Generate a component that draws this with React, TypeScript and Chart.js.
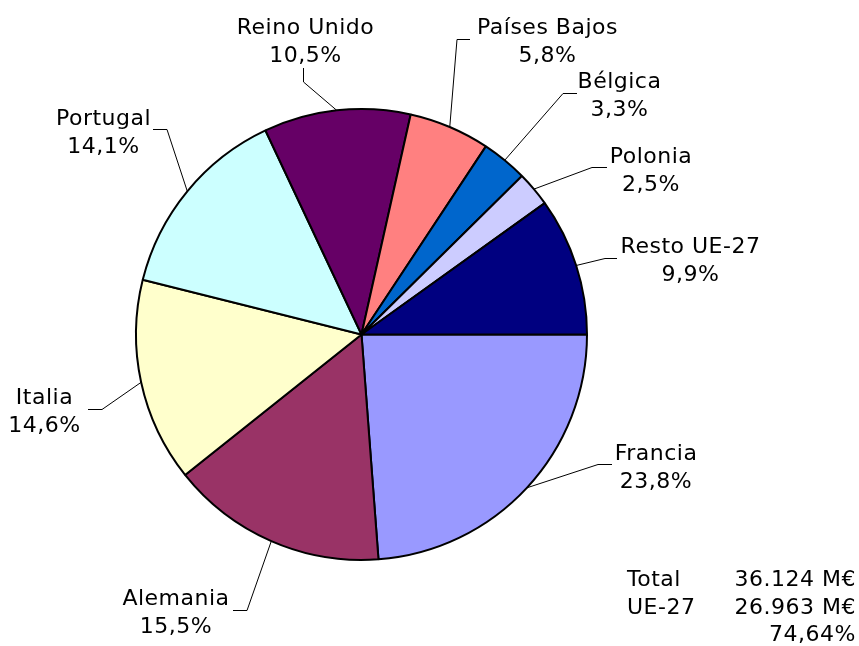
import React, { useEffect, useRef } from "react";
import { Chart, registerables } from "chart.js";

Chart.register(...registerables);

const categories = [
  "Francia",
  "Alemania",
  "Italia",
  "Portugal",
  "Reino Unido",
  "Países Bajos",
  "Bélgica",
  "Polonia",
  "Resto UE-27",
];
const shares = [23.8, 15.5, 14.6, 14.1, 10.5, 5.8, 3.3, 2.5, 9.9];
const sliceColors = [
  "#9999FF",
  "#993366",
  "#FFFFCC",
  "#CCFFFF",
  "#660066",
  "#FF8080",
  "#0066CC",
  "#CCCCFF",
  "#000080",
];
const summaryLabels = ["Total", "UE-27", ""];
const summaryValues = ["36.124 M€", "26.963 M€", "74,64%"];

// label placement (text centre x, first-line baseline y, leader start a, leader elbow b)
const labelLayout = [
  { x: 656, y: 460, ax: 612, ay: 464.5, bx: 598, by: 464.5 },
  { x: 176, y: 605, ax: 233, ay: 610.5, bx: 247, by: 610.5 },
  { x: 44.5, y: 404, ax: 88, ay: 409.5, bx: 102, by: 409.5 },
  { x: 103.5, y: 125, ax: 153, ay: 129.5, bx: 167, by: 129.5 },
  { x: 305.5, y: 34, ax: 303.5, ay: 68, bx: 303.5, by: 82 },
  { x: 547.5, y: 34, ax: 470, ay: 39.5, bx: 457, by: 39.5 },
  { x: 619.5, y: 88, ax: 577, ay: 93.5, bx: 563, by: 93.5 },
  { x: 651, y: 163, ax: 607, ay: 167.5, bx: 592, by: 167.5 },
  { x: 690.5, y: 253, ax: 617, ay: 258.5, bx: 605, by: 258.5 },
];

const FONT = '22px "DejaVu Sans", Verdana, sans-serif';
const LINE_GAP = 28;

const labelsPlugin = {
  id: "pieLabels",
  afterDraw(chart: any) {
    const ctx = chart.ctx as CanvasRenderingContext2D;
    const meta = chart.getDatasetMeta(0);
    ctx.save();
    // leaders
    ctx.strokeStyle = "#000";
    ctx.lineWidth = 1;
    meta.data.forEach((arc: any, i: number) => {
      const p = arc.getProps(["x", "y", "startAngle", "endAngle", "outerRadius"], true);
      const mid = (p.startAngle + p.endAngle) / 2;
      const ex = p.x + Math.cos(mid) * p.outerRadius;
      const ey = p.y + Math.sin(mid) * p.outerRadius;
      const L = labelLayout[i];
      ctx.beginPath();
      ctx.moveTo(L.ax, L.ay);
      ctx.lineTo(L.bx, L.by);
      ctx.lineTo(ex, ey);
      ctx.stroke();
    });
    // texts
    ctx.fillStyle = "#000";
    ctx.font = FONT;
    (ctx as any).letterSpacing = "0.5px";
    ctx.textAlign = "center";
    ctx.textBaseline = "alphabetic";
    const data = chart.data.datasets[0].data as number[];
    chart.data.labels.forEach((name: string, i: number) => {
      const L = labelLayout[i];
      ctx.fillText(name, L.x, L.y);
      ctx.fillText(data[i].toFixed(1).replace(".", ",") + "%", L.x, L.y + LINE_GAP);
    });
    // summary block
    const base = 586;
    const gap = 27.5;
    summaryLabels.forEach((t, i) => {
      ctx.textAlign = "left";
      ctx.fillText(t, 627, base + i * gap);
      ctx.textAlign = "right";
      ctx.fillText(summaryValues[i], 856, base + i * gap);
    });
    ctx.restore();
  },
};

export default function App() {
  const ref = useRef<HTMLCanvasElement | null>(null);
  useEffect(() => {
    if (!ref.current) return;
    const chart = new Chart(ref.current, {
      type: "pie",
      data: {
        labels: categories,
        datasets: [
          {
            data: shares,
            backgroundColor: sliceColors,
            borderColor: "#000",
            borderWidth: 2,
          },
        ],
      },
      options: {
        responsive: false,
        animation: false,
        rotation: 90,
        layout: { padding: { left: 135, right: 271, top: 108, bottom: 85 } },
        plugins: {
          legend: { display: false },
          tooltip: { enabled: false },
          title: { display: false },
        },
      },
      plugins: [labelsPlugin],
    });
    return () => chart.destroy();
  }, []);
  return (
    <div style={{ position: "fixed", left: 0, top: 0, width: 859, height: 646, background: "#fff" }}>
      <canvas ref={ref} width={859} height={646} style={{ display: "block" }} />
    </div>
  );
}
